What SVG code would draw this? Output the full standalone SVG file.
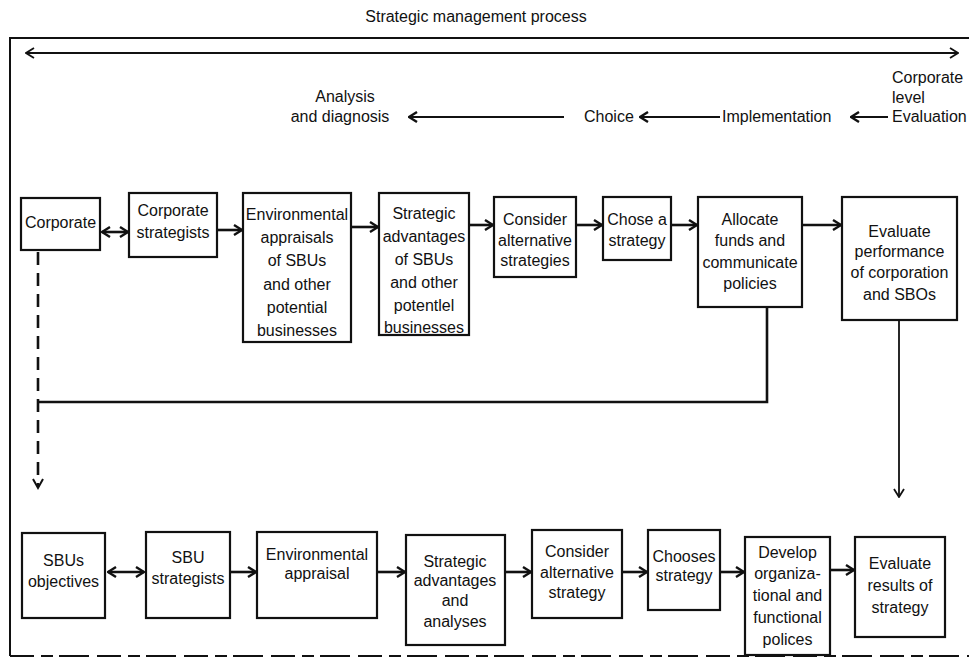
<svg xmlns="http://www.w3.org/2000/svg" width="969" height="662" viewBox="0 0 969 662">
  <defs>
    <marker id="head" viewBox="0 0 10 12" refX="9" refY="6" markerWidth="10" markerHeight="12" markerUnits="userSpaceOnUse" orient="auto-start-reverse">
      <path d="M1,1 L9,6 L1,11" fill="none" stroke="#111" stroke-width="2.4" stroke-linejoin="miter"/>
    </marker>
    <marker id="headThin" viewBox="0 0 10 12" refX="9" refY="6" markerWidth="10" markerHeight="12" markerUnits="userSpaceOnUse" orient="auto-start-reverse">
      <path d="M1,1 L9,6 L1,11" fill="none" stroke="#111" stroke-width="1.8"/>
    </marker>
  </defs>
  <style>
    text { font-family: "Liberation Sans", Arial, sans-serif; font-size: 16px; fill: #111; }
    .c { text-anchor: middle; }
    .box { fill: #fff; stroke: #111; stroke-width: 2.2; }
    .flow { fill: none; stroke: #111; stroke-width: 2.6; }
    .thin { fill: none; stroke: #111; stroke-width: 1.8; }
    .frame { fill: none; stroke: #111; stroke-width: 2; }
  </style>
  <rect width="969" height="662" fill="#fff"/>

  <!-- outer frame and heading -->
  <g id="frame">
    <text class="c" x="476" y="22">Strategic management process</text>
    <path class="frame" d="M969,38 L10,38 L10,656"/>
    <path class="frame" d="M10,656 L969,656" stroke-dasharray="24 7 12 6 30 8"/>
    <line class="thin" x1="26" y1="53" x2="958" y2="53" marker-start="url(#headThin)" marker-end="url(#headThin)"/>
  </g>

  <!-- phase labels -->
  <g id="phases">
    <text class="c" x="345" y="102">Analysis</text>
    <text class="c" x="340" y="122">and diagnosis</text>
    <text x="584" y="122">Choice</text>
    <text x="722" y="122">Implementation</text>
    <text x="892" y="83">Corporate</text>
    <text x="892" y="103">level</text>
    <text x="892" y="122">Evaluation</text>
  </g>

  <!-- corporate level row -->
  <g id="corporate">
    <rect class="box" x="21" y="198" width="79" height="52"/>
    <text class="c" x="60.5" y="228">Corporate</text>
  </g>
  <g id="corporate-strategists">
    <rect class="box" x="129" y="193" width="88" height="64"/>
    <text class="c" x="173" y="216">Corporate</text>
    <text class="c" x="173" y="238">strategists</text>
  </g>
  <g id="environmental-appraisals">
    <rect class="box" x="243" y="193" width="108" height="149"/>
    <text class="c" x="297" y="220">Environmental</text>
    <text class="c" x="297" y="243">appraisals</text>
    <text class="c" x="297" y="266">of SBUs</text>
    <text class="c" x="297" y="290">and other</text>
    <text class="c" x="297" y="313">potential</text>
    <text class="c" x="297" y="336">businesses</text>
  </g>
  <g id="strategic-advantages">
    <rect class="box" x="379" y="193" width="90" height="142"/>
    <text class="c" x="424" y="219">Strategic</text>
    <text class="c" x="424" y="242">advantages</text>
    <text class="c" x="424" y="265">of SBUs</text>
    <text class="c" x="424" y="288">and other</text>
    <text class="c" x="424" y="311">potentlel</text>
    <text class="c" x="424" y="333">businesses</text>
  </g>
  <g id="consider-alternatives">
    <rect class="box" x="494" y="197" width="82" height="80"/>
    <text class="c" x="535" y="225">Consider</text>
    <text class="c" x="535" y="246">alternative</text>
    <text class="c" x="535" y="266">strategies</text>
  </g>
  <g id="chose-strategy">
    <rect class="box" x="603" y="197" width="68" height="63"/>
    <text class="c" x="637" y="225">Chose a</text>
    <text class="c" x="637" y="246">strategy</text>
  </g>
  <g id="allocate-funds">
    <rect class="box" x="698" y="197" width="104" height="110"/>
    <text class="c" x="750" y="225">Allocate</text>
    <text class="c" x="750" y="246">funds and</text>
    <text class="c" x="750" y="268">communicate</text>
    <text class="c" x="750" y="289">policies</text>
  </g>
  <g id="evaluate-performance">
    <rect class="box" x="842" y="197" width="115" height="123"/>
    <text class="c" x="899.5" y="237">Evaluate</text>
    <text class="c" x="899.5" y="257">performance</text>
    <text class="c" x="899.5" y="278">of corporation</text>
    <text class="c" x="899.5" y="300">and  SBOs</text>
  </g>

  <!-- SBU level row -->
  <g id="sbu-objectives">
    <rect class="box" x="22" y="533" width="83" height="85"/>
    <text class="c" x="63.5" y="566">SBUs</text>
    <text class="c" x="63.5" y="587">objectives</text>
  </g>
  <g id="sbu-strategists">
    <rect class="box" x="146" y="532" width="84" height="86"/>
    <text class="c" x="188" y="563">SBU</text>
    <text class="c" x="188" y="584">strategists</text>
  </g>
  <g id="environmental-appraisal">
    <rect class="box" x="257" y="532" width="120" height="86"/>
    <text class="c" x="317" y="560">Environmental</text>
    <text class="c" x="317" y="579">appraisal</text>
  </g>
  <g id="strategic-analyses">
    <rect class="box" x="406" y="535" width="99" height="110"/>
    <text class="c" x="455" y="567">Strategic</text>
    <text class="c" x="455" y="586">advantages</text>
    <text class="c" x="455" y="606">and</text>
    <text class="c" x="455" y="627">analyses</text>
  </g>
  <g id="consider-alternative">
    <rect class="box" x="532" y="530" width="90" height="88"/>
    <text class="c" x="577" y="557">Consider</text>
    <text class="c" x="577" y="578">alternative</text>
    <text class="c" x="577" y="598">strategy</text>
  </g>
  <g id="chooses-strategy">
    <rect class="box" x="648" y="530" width="72" height="80"/>
    <text class="c" x="684" y="562">Chooses</text>
    <text class="c" x="684" y="581">strategy</text>
  </g>
  <g id="develop-policies">
    <rect class="box" x="745" y="537" width="85" height="118"/>
    <text class="c" x="787.5" y="558">Develop</text>
    <text class="c" x="787.5" y="579">organiza-</text>
    <text class="c" x="787.5" y="601">tional and</text>
    <text class="c" x="787.5" y="623">functional</text>
    <text class="c" x="787.5" y="645">polices</text>
  </g>
  <g id="evaluate-results">
    <rect class="box" x="855" y="537" width="90" height="100"/>
    <text class="c" x="900" y="569">Evaluate</text>
    <text class="c" x="900" y="591">results of</text>
    <text class="c" x="900" y="613">strategy</text>
  </g>

  <!-- connectors -->
  <g id="connectors">
    <!-- phase sequence, right to left -->
    <line class="thin" x1="564" y1="117" x2="409" y2="117" marker-end="url(#head)"/>
    <line class="thin" x1="720" y1="117" x2="640" y2="117" marker-end="url(#head)"/>
    <line class="thin" x1="888" y1="117" x2="851" y2="117" marker-end="url(#head)"/>

    <!-- corporate row -->
    <line class="flow" x1="102" y1="232" x2="128" y2="232" marker-start="url(#head)" marker-end="url(#head)"/>
    <line class="flow" x1="217" y1="230" x2="242" y2="230" marker-end="url(#head)"/>
    <line class="flow" x1="351" y1="227" x2="378" y2="227" marker-end="url(#head)"/>
    <line class="flow" x1="469" y1="225" x2="493" y2="225" marker-end="url(#head)"/>
    <line class="flow" x1="576" y1="225" x2="602" y2="225" marker-end="url(#head)"/>
    <line class="flow" x1="671" y1="225" x2="697" y2="225" marker-end="url(#head)"/>
    <line class="flow" x1="802" y1="225" x2="841" y2="225" marker-end="url(#head)"/>

    <!-- feedback from allocation back to corporate -->
    <path class="flow" d="M767,307 L767,402 L38,402"/>
    <!-- corporate down to SBU level -->
    <line class="flow" x1="38" y1="252" x2="38" y2="486" stroke-dasharray="13 8"/>
    <path d="M33,479 L38,488 L43,479" fill="none" stroke="#111" stroke-width="2"/>
    <!-- corporate evaluation down to SBU evaluation -->
    <line class="thin" x1="899" y1="320" x2="899" y2="497" marker-end="url(#headThin)"/>

    <!-- SBU row -->
    <line class="flow" x1="108" y1="572" x2="144" y2="572" marker-start="url(#head)" marker-end="url(#head)"/>
    <line class="flow" x1="230" y1="572" x2="256" y2="572" marker-end="url(#head)"/>
    <line class="flow" x1="377" y1="572" x2="405" y2="572" marker-end="url(#head)"/>
    <line class="flow" x1="505" y1="572" x2="531" y2="572" marker-end="url(#head)"/>
    <line class="flow" x1="622" y1="572" x2="647" y2="572" marker-end="url(#head)"/>
    <line class="flow" x1="720" y1="572" x2="744" y2="572" marker-end="url(#head)"/>
    <line class="flow" x1="830" y1="570" x2="854" y2="570" marker-end="url(#head)"/>
  </g>
</svg>
